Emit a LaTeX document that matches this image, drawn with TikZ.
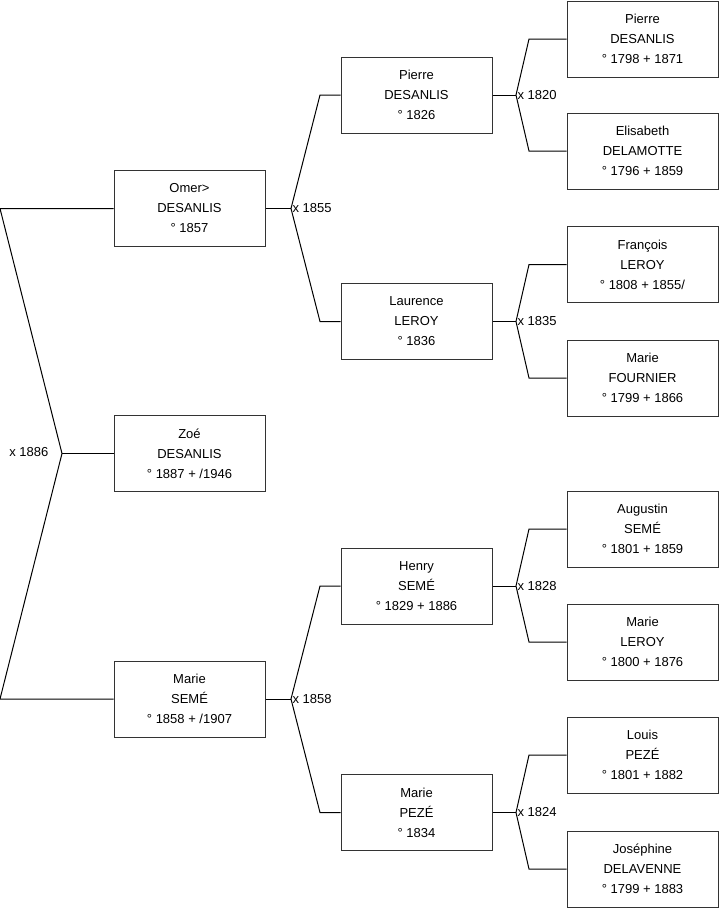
\documentclass[tikz,border=0pt]{standalone}
\usepackage{fontspec}
\setmainfont{Liberation Sans}

\begin{document}
\begin{tikzpicture}[x=0.75pt, y=-0.75pt,
  person/.style={draw=black!80, line width=0.75pt, minimum width=113.25pt, minimum height=57pt, inner sep=0pt, align=center, font=\fontsize{9.75}{15}\selectfont},
  link/.style={line width=0.75pt},
  mariage/.style={inner sep=1pt, font=\fontsize{9.75}{12}\selectfont}]
\useasboundingbox (0,0) rectangle (719,908);
% generation 1
\node[person] (omer) at (189.5,208.5) {Omer>\\DESANLIS\\° 1857};
\node[person] (zoe) at (189.5,453.5) {Zoé\\DESANLIS\\° 1887 + /1946};
\node[person] (marie1) at (189.5,699) {Marie\\SEMÉ\\° 1858 + /1907};
% generation 2
\node[person] (pierre1) at (416.5,95) {Pierre\\DESANLIS\\° 1826};
\node[person] (laurence) at (416.5,321.5) {Laurence\\LEROY\\° 1836};
\node[person] (henry) at (416.5,586) {Henry\\SEMÉ\\° 1829 + 1886};
\node[person] (marie2) at (416.5,812.5) {Marie\\PEZÉ\\° 1834};
% generation 3
\node[person] (pierre2) at (642.5,39) {Pierre\\DESANLIS\\° 1798 + 1871};
\node[person] (elisabeth) at (642.5,151) {Elisabeth\\DELAMOTTE\\° 1796 + 1859};
\node[person] (francois) at (642.5,264.5) {François\\LEROY\\° 1808 + 1855/};
\node[person] (marie3) at (642.5,378) {Marie\\FOURNIER\\° 1799 + 1866};
\node[person] (augustin) at (642.5,529) {Augustin\\SEMÉ\\° 1801 + 1859};
\node[person] (marie4) at (642.5,642) {Marie\\LEROY\\° 1800 + 1876};
\node[person] (louis) at (642.5,755) {Louis\\PEZÉ\\° 1801 + 1882};
\node[person] (josephine) at (642.5,869) {Joséphine\\DELAVENNE\\° 1799 + 1883};
% junctions
\coordinate (j0) at (62,453.5);
\coordinate (j0a) at (0,208.5);
\coordinate (j0b) at (0,699);
\coordinate (j1) at (291,208.5);
\coordinate (j1a) at (320,95);
\coordinate (j1b) at (320,321.5);
\coordinate (j2) at (291,699);
\coordinate (j2a) at (320,586);
\coordinate (j2b) at (320,812.5);
\coordinate (j3) at (516,95);
\coordinate (j3a) at (529,39);
\coordinate (j3b) at (529,151);
\coordinate (j4) at (516,321.5);
\coordinate (j4a) at (529,264.5);
\coordinate (j4b) at (529,378);
\coordinate (j5) at (516,586);
\coordinate (j5a) at (529,529);
\coordinate (j5b) at (529,642);
\coordinate (j6) at (516,812.5);
\coordinate (j6a) at (529,755);
\coordinate (j6b) at (529,869);
% links
\draw[link] (omer.west) -- (j0a) -- (j0) -- (j0b) -- (marie1.west);
\draw[link] (j0) -- (zoe.west);
\draw[link] (omer.east) -- (j1);
\draw[link] (pierre1.west) -- (j1a) -- (j1) -- (j1b) -- (laurence.west);
\draw[link] (marie1.east) -- (j2);
\draw[link] (henry.west) -- (j2a) -- (j2) -- (j2b) -- (marie2.west);
\draw[link] (pierre1.east) -- (j3);
\draw[link] (pierre2.west) -- (j3a) -- (j3) -- (j3b) -- (elisabeth.west);
\draw[link] (laurence.east) -- (j4);
\draw[link] (francois.west) -- (j4a) -- (j4) -- (j4b) -- (marie3.west);
\draw[link] (henry.east) -- (j5);
\draw[link] (augustin.west) -- (j5a) -- (j5) -- (j5b) -- (marie4.west);
\draw[link] (marie2.east) -- (j6);
\draw[link] (louis.west) -- (j6a) -- (j6) -- (j6b) -- (josephine.west);
% marriages
\node[mariage, anchor=east] (m0) at (50,452) {x 1886};
\node[mariage, anchor=west] (m1) at (j1) {x 1855};
\node[mariage, anchor=west] (m2) at (j2) {x 1858};
\node[mariage, anchor=west] (m3) at (j3) {x 1820};
\node[mariage, anchor=west] (m4) at (j4) {x 1835};
\node[mariage, anchor=west] (m5) at (j5) {x 1828};
\node[mariage, anchor=west] (m6) at (j6) {x 1824};
\end{tikzpicture}
\end{document}
